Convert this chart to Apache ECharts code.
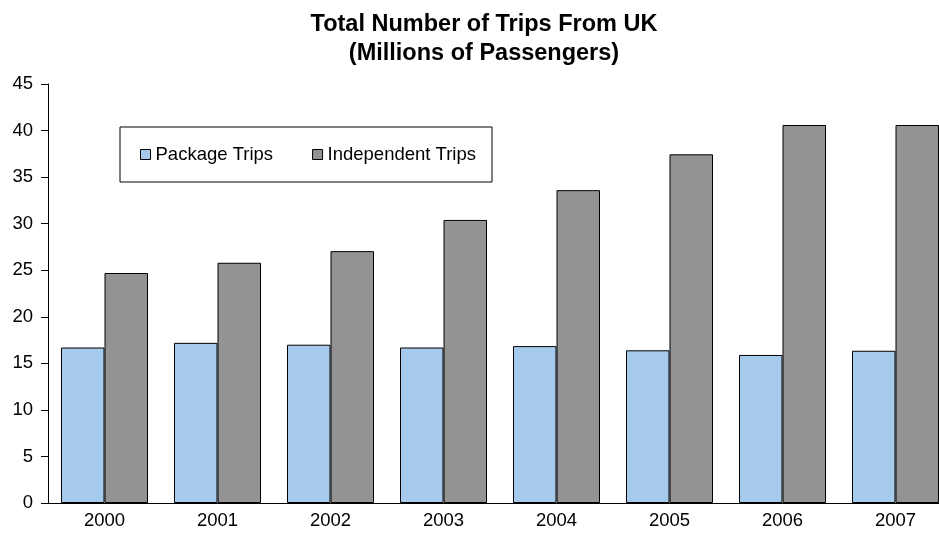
<!DOCTYPE html>
<html>
<head>
<meta charset="utf-8">
<script src="https://cdn.jsdelivr.net/npm/echarts@6/dist/echarts.min.js"></script>
<style>
  html, body { margin: 0; padding: 0; background: #fff; overflow: hidden; }
  /* the plot runs a little past the right edge of the window */
  #chart { width: 952px; height: 538px; }
</style>
</head>
<body>
<div id="chart"></div>
<script>
// Trips from the UK, millions of passengers
const years = ['2000', '2001', '2002', '2003', '2004', '2005', '2006', '2007'];
const packageTrips = [16.7, 17.2, 17.0, 16.7, 16.85, 16.4, 15.9, 16.35];
const independentTrips = [24.7, 25.8, 27.05, 30.4, 33.6, 37.45, 40.6, 40.6];
const yTicks = { min: 0, max: 45, step: 5 };

const FONT = '"Liberation Sans", Arial, sans-serif';

const chart = echarts.init(document.getElementById('chart'), null, { renderer: 'canvas' });

chart.setOption({
  animation: false,
  backgroundColor: '#ffffff',
  title: {
    text: 'Total Number of Trips From UK\n(Millions of Passengers)',
    left: 484,
    top: 9.5,
    textAlign: 'center',
    padding: 0,
    textStyle: {
      fontFamily: FONT,
      fontWeight: 'bold',
      fontSize: 23.5,
      lineHeight: 29.5,
      color: '#000'
    }
  },
  legend: {
    left: 120,
    top: 127,
    orient: 'horizontal',
    icon: 'rect',
    itemWidth: 10,
    itemHeight: 10,
    itemGap: 39,
    padding: [18, 16, 18, 20],
    borderColor: '#000',
    borderWidth: 1,
    backgroundColor: '#fff',
    textStyle: { fontFamily: FONT, fontSize: 18.5, color: '#000' },
    itemStyle: { borderColor: '#000', borderWidth: 1 },
    data: ['Package Trips', 'Independent Trips']
  },
  grid: {
    left: 48,
    right: 0,
    top: 84,
    bottom: 35,
    containLabel: false
  },
  xAxis: {
    type: 'category',
    data: years,
    axisLine: { show: true, lineStyle: { color: '#000', width: 1 } },
    axisTick: { show: false },
    axisLabel: { fontFamily: FONT, fontSize: 18.5, color: '#000', margin: 8 },
    splitLine: { show: false }
  },
  yAxis: {
    type: 'value',
    min: yTicks.min,
    max: yTicks.max,
    interval: yTicks.step,
    axisLine: { show: true, lineStyle: { color: '#000', width: 1 } },
    axisTick: { show: true, length: 7, lineStyle: { color: '#000' } },
    axisLabel: { fontFamily: FONT, fontSize: 18.5, color: '#000', margin: 15 },
    splitLine: { show: false }
  },
  series: [
    {
      name: 'Package Trips',
      type: 'bar',
      data: packageTrips,
      barGap: '0%',
      barCategoryGap: '23%',
      itemStyle: { color: '#A6CAEC', borderColor: '#000', borderWidth: 1 }
    },
    {
      name: 'Independent Trips',
      type: 'bar',
      data: independentTrips,
      itemStyle: { color: '#939393', borderColor: '#000', borderWidth: 1 }
    }
  ]
});
</script>
</body>
</html>
